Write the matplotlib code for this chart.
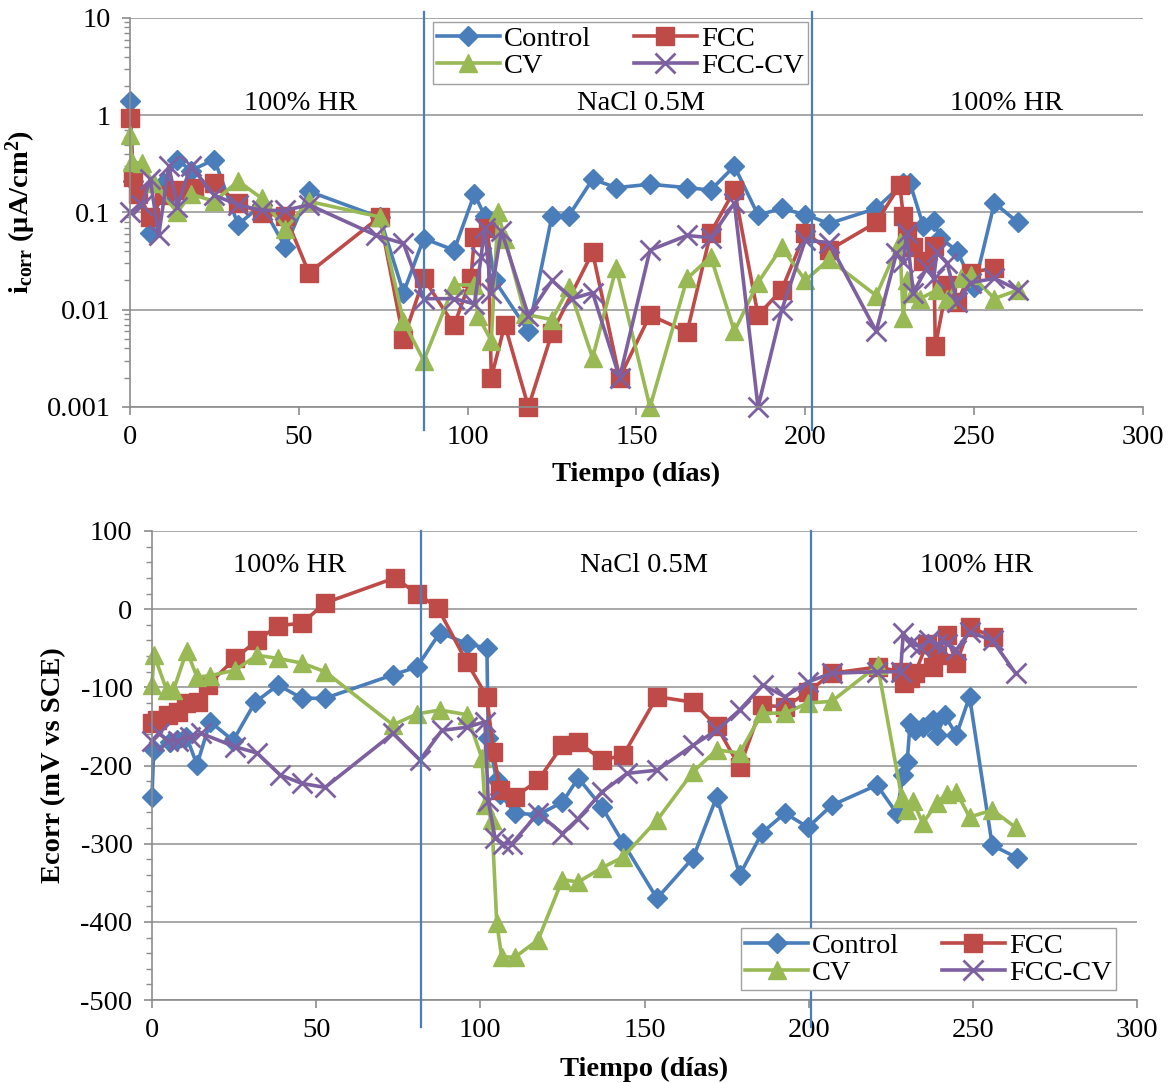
import matplotlib
matplotlib.use("Agg")
import matplotlib.pyplot as plt
from matplotlib.ticker import LogLocator, FuncFormatter, MultipleLocator, NullFormatter

plt.rcParams['font.family'] = ['Liberation Serif', 'DejaVu Serif']
plt.rcParams['mathtext.fontset'] = 'custom'
plt.rcParams['mathtext.rm'] = 'Liberation Serif'
plt.rcParams['mathtext.bf'] = 'Liberation Serif:bold'
plt.rcParams['mathtext.it'] = 'Liberation Serif:italic'
plt.rcParams['axes.unicode_minus'] = False

# ---------------- Corrosion current density (µA/cm²) ----------------
ctrl_t_i = [0, 1, 6, 10, 14, 18, 25, 32, 39, 46, 53, 74, 81, 87, 96, 102, 105, 108,
            118, 125, 130, 137, 144, 154, 165, 172, 179, 186, 193, 200, 207, 221,
            229, 231, 235, 238, 240, 245, 250, 256, 263]
ctrl_i = [1.4, 0.21, 0.062, 0.2, 0.35, 0.27, 0.35, 0.075, 0.12, 0.044, 0.165, 0.089,
          0.015, 0.054, 0.041, 0.155, 0.093, 0.02, 0.006, 0.093, 0.093, 0.22, 0.18,
          0.195, 0.18, 0.17, 0.3, 0.094, 0.11, 0.095, 0.077, 0.11, 0.2, 0.2, 0.072,
          0.082, 0.055, 0.04, 0.017, 0.125, 0.079]

fcc_t_i = [0, 1, 2.5, 6, 10, 14, 19, 25, 32, 39, 46, 53, 74, 81, 87, 96, 101, 102,
           106, 107, 111, 118, 125, 137, 145, 154, 165, 172, 179, 186, 193, 200, 207,
           221, 228, 229, 230, 232, 235, 238, 238.5, 242, 245, 249, 256]
fcc_i = [0.93, 0.23, 0.155, 0.09, 0.15, 0.17, 0.18, 0.2, 0.125, 0.098, 0.092, 0.024,
         0.09, 0.005, 0.021, 0.0069, 0.021, 0.056, 0.07, 0.002, 0.007, 0.001, 0.0058,
         0.039, 0.002, 0.0088, 0.0059, 0.062, 0.17, 0.0088, 0.016, 0.062, 0.041,
         0.079, 0.19, 0.093, 0.065, 0.044, 0.032, 0.045, 0.0042, 0.018, 0.012, 0.024,
         0.027]

cv_t_i = [0, 0.5, 3.5, 7, 14, 18, 25, 32, 39, 46, 53, 74, 81, 87, 96, 102, 103, 107,
          109, 111, 117, 125, 130, 137, 144, 154, 165, 172, 179, 186, 193, 200, 207,
          221, 228, 229, 230, 232, 234, 239, 242, 246, 249, 256, 263]
cv_i = [0.62, 0.33, 0.32, 0.2, 0.1, 0.155, 0.13, 0.21, 0.14, 0.068, 0.13, 0.09, 0.0076,
        0.003, 0.018, 0.018, 0.0087, 0.0048, 0.1, 0.054, 0.009, 0.0079, 0.017, 0.0032,
        0.027, 0.001, 0.021, 0.035, 0.006, 0.019, 0.044, 0.02, 0.033, 0.014, 0.05,
        0.0082, 0.02, 0.015, 0.013, 0.016, 0.013, 0.021, 0.023, 0.013, 0.016]

fcccv_t_i = [0, 3.5, 6, 8.5, 11.5, 14, 18, 25, 32, 39, 46, 53, 73, 81, 87, 96, 102, 104,
             105, 107, 110, 118, 125, 131, 137, 145, 154, 165, 172, 179, 186, 193, 200,
             207, 221, 227, 229, 230, 232, 236, 238, 239, 242, 245, 249, 256, 263]
fcccv_i = [0.1, 0.12, 0.22, 0.058, 0.3, 0.115, 0.3, 0.15, 0.12, 0.105, 0.105, 0.12,
           0.058, 0.048, 0.013, 0.013, 0.0115, 0.035, 0.07, 0.0147, 0.065, 0.0087, 0.02,
           0.013, 0.015, 0.002, 0.041, 0.058, 0.055, 0.125, 0.001, 0.0099, 0.052, 0.049,
           0.006, 0.038, 0.031, 0.061, 0.015, 0.027, 0.021, 0.039, 0.03, 0.012, 0.019,
           0.021, 0.016]

# ---------------- Corrosion potential (mV vs SCE) ----------------
ctrl_t_e = [0, 0.5, 5.5, 7.5, 10.5, 13.7, 17.7, 24.7, 31.4, 38.4, 45.7, 52.7, 73.4, 80.7,
            87.7, 95.9, 102, 102.4, 105, 106, 110.6, 117.6, 125, 129.8, 137, 143.5, 153.8,
            164.8, 172, 179, 185.8, 192.8, 199.8, 207, 220.8, 226.8, 228.8, 230, 230.9,
            232.4, 234.8, 238, 239, 241.5, 245, 249, 255.9, 263.5]
ctrl_e = [-240, -180, -170, -167, -163, -199, -144, -168, -119, -97, -114, -114, -84, -74,
          -30, -44, -50, -165, -219, -236, -261, -263, -247, -216, -253, -299, -370, -318,
          -240, -340, -286, -261, -279, -251, -225, -261, -212, -195, -146, -155, -151,
          -142, -161, -136, -161, -112, -302, -318]

fcc_t_e = [0, 1.5, 5, 8, 10.5, 14, 17, 25.3, 32, 38.4, 45.7, 52.7, 74, 80.7, 87, 95.9,
           102, 104, 106, 110.5, 117.6, 125, 129.8, 137, 143.5, 153.8, 164.8, 172, 179,
           185.8, 192.8, 199.8, 207, 221, 228, 229, 231, 232.4, 236, 238, 239, 242, 245,
           249, 256]
fcc_e = [-146, -142, -136, -132, -120, -119, -97, -63, -40, -21, -18, 8, 40, 20, 2, -68,
         -112, -183, -231, -240, -219, -174, -170, -193, -187, -112, -119, -150, -202,
         -123, -125, -106, -82, -74, -80, -95, -88, -82, -44, -74, -59, -33, -69, -23, -35]

cv_t_e = [0, 0.6, 4.5, 6.5, 10.6, 13.7, 17.7, 25.3, 32, 38.4, 45.7, 52.7, 73.4, 80.7,
          87.7, 95.9, 100.5, 101.4, 103.5, 105, 106.5, 110.6, 117.6, 125, 129.8, 137,
          143.5, 153.8, 164.8, 172, 179, 185.8, 192.8, 199.8, 207, 221, 228.4, 230,
          231.8, 234.8, 239, 242, 245, 249, 255.9, 263]
cv_e = [-97, -58, -104, -104, -53, -87, -85, -78, -59, -63, -69, -80, -148, -134, -129,
        -135, -191, -250, -270, -401, -445, -445, -423, -346, -349, -331, -317, -270,
        -208, -180, -184, -133, -133, -120, -118, -72, -242, -257, -246, -274, -248,
        -236, -234, -266, -257, -279]

fcccv_t_e = [0, 2, 5, 8, 11.6, 15, 25.3, 32, 39, 45.7, 52.7, 73.4, 81.6, 88.3, 95.9,
             101.4, 102.4, 104.5, 107, 109.6, 117.6, 125, 129.8, 137, 144.7, 153.8, 164.8,
             172, 179, 186, 192.8, 199.8, 207, 220.8, 228, 228.8, 230.9, 234, 236.5, 239,
             242, 245, 249, 256, 263]
fcccv_e = [-168, -159, -168, -168, -163, -159, -176, -184, -212, -223, -228, -159, -193,
           -155, -151, -144, -245, -293, -300, -300, -261, -287, -268, -234, -210, -206,
           -174, -155, -129, -97, -112, -93, -82, -80, -80, -31, -44, -48, -40, -44, -44,
           -52, -29, -40, -82]

series_names = ['Control', 'FCC', 'CV', 'FCC-CV']
colors = ['#4A7EBB', '#BE4B48', '#98B954', '#7D60A0']
markers = ['D', 's', '^', 'x']
msizes = [10, 13, 13, 14]

period_labels = ['100% HR', 'NaCl 0.5M', '100% HR']
x_ticks = [0, 50, 100, 150, 200, 250, 300]
grid_col = '#A0A0A0'
spine_col = '#8C8C8C'
FS = 20.5

fig = plt.figure(figsize=(11.73, 10.83), dpi=100)
ax1 = fig.add_axes([0.1108, 0.6242, 0.8636, 0.3592])
ax2 = fig.add_axes([0.1296, 0.0766, 0.8397, 0.4331])


def style_axes(ax):
    for s in ('top', 'right'):
        ax.spines[s].set_visible(False)
    for s in ('left', 'bottom'):
        ax.spines[s].set_color(spine_col)
        ax.spines[s].set_linewidth(1.2)
    ax.set_xlim(0, 300)
    ax.set_xticks(x_ticks)
    ax.tick_params(axis='both', which='both', direction='out', colors=spine_col,
                   labelcolor='black', labelsize=FS)
    ax.tick_params(axis='both', which='major', length=6, width=1.2)
    ax.tick_params(axis='y', which='minor', length=4, width=1.0)
    ax.tick_params(axis='x', pad=7)
    ax.tick_params(axis='y', pad=8)
    ax.yaxis.grid(True, which='major', color=grid_col, linewidth=1.3)
    ax.set_axisbelow(True)


def draw_series(ax, data):
    handles = []
    for (t, v), name, c, m, ms in zip(data, series_names, colors, markers, msizes):
        mew = 2.0 if m == 'x' else 1.0
        h, = ax.plot(t, v, color=c, marker=m, markersize=ms, linewidth=2.6,
                     markeredgewidth=mew, markeredgecolor=c, markerfacecolor=c,
                     label=name, clip_on=False)
        handles.append(h)
    return handles


def add_legend(ax, handles, loc, anchor):
    order = [0, 2, 1, 3]
    leg = ax.legend([handles[i] for i in order], [series_names[i] for i in order],
                    ncol=2, loc=loc, bbox_to_anchor=anchor, fontsize=FS,
                    frameon=True, fancybox=False, borderaxespad=0,
                    handlelength=2.2, handletextpad=0.15, columnspacing=1.5,
                    labelspacing=0.05, borderpad=0.15)
    leg.get_frame().set_edgecolor('#A0A0A0')
    leg.get_frame().set_linewidth(1.0)
    leg.get_frame().set_alpha(1.0)
    return leg


# ---- top panel: icorr ----
style_axes(ax1)
ax1.set_yscale('log')
ax1.set_ylim(0.001, 10)
ax1.yaxis.set_major_locator(LogLocator(base=10, numticks=10))
ax1.yaxis.set_minor_locator(LogLocator(base=10, subs=range(2, 10), numticks=20))
ax1.yaxis.set_minor_formatter(NullFormatter())
ax1.yaxis.set_major_formatter(FuncFormatter(lambda v, p: f'{v:g}'))
h1 = draw_series(ax1, [(ctrl_t_i, ctrl_i), (fcc_t_i, fcc_i), (cv_t_i, cv_i),
                       (fcccv_t_i, fcccv_i)])
for xd in (87, 202):
    ax1.axvline(xd, ymin=-0.059, ymax=1.015, color='#4A7EBB', linewidth=1.6,
                clip_on=False, zorder=5)
for xt, lab in zip((50.5, 151.5, 259.5), period_labels):
    ax1.text(xt, 0.781, lab, transform=ax1.get_xaxis_transform(), ha='center',
             va='center', fontsize=FS)
ax1.set_xlabel('Tiempo (días)', fontsize=FS, fontweight='bold', labelpad=8.5)
ax1.set_ylabel(r'i$_{\mathbf{corr}}$ (μA/cm$^{\mathbf{2}}$)', fontsize=FS,
               fontweight='bold', labelpad=6)
add_legend(ax1, h1, 'upper left', (0.299, 0.99))

# ---- bottom panel: Ecorr ----
style_axes(ax2)
ax2.set_ylim(-500, 100)
ax2.yaxis.set_major_locator(MultipleLocator(100))
ax2.yaxis.set_minor_locator(MultipleLocator(20))
h2 = draw_series(ax2, [(ctrl_t_e, ctrl_e), (fcc_t_e, fcc_e), (cv_t_e, cv_e),
                       (fcccv_t_e, fcccv_e)])
for xd in (82, 200.7):
    ax2.axvline(xd, ymin=-0.058, ymax=1.0, color='#4A7EBB', linewidth=1.6,
                clip_on=False, zorder=5)
for xt, lab in zip((42, 150, 251), period_labels):
    ax2.text(xt, 0.926, lab, transform=ax2.get_xaxis_transform(), ha='center',
             va='center', fontsize=FS)
ax2.set_xlabel('Tiempo (días)', fontsize=FS, fontweight='bold', labelpad=10)
ax2.set_ylabel('Ecorr (mV vs SCE)', fontsize=FS, fontweight='bold', labelpad=10)
add_legend(ax2, h2, 'lower left', (0.598, 0.021))

fig.savefig('out.png', dpi=100)
